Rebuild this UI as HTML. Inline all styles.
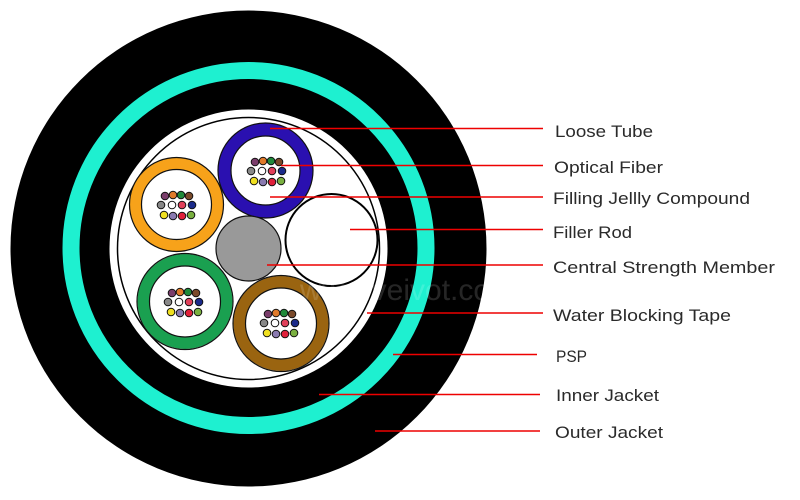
<!DOCTYPE html>
<html><head><meta charset="utf-8"><style>
html,body{margin:0;padding:0;background:#fff;width:800px;height:500px;overflow:hidden}
text.l{font-family:"Liberation Sans",sans-serif;font-size:17px;fill:#2a2a2a}
</style></head><body>
<svg width="800" height="500" viewBox="0 0 800 500" xmlns="http://www.w3.org/2000/svg">
<defs>
<g id="fib" stroke="#111" stroke-width="1">
<circle cx="-12" cy="-9" r="3.8" fill="#7a3d6b"/><circle cx="-4" cy="-10" r="3.8" fill="#e07a2a"/><circle cx="4" cy="-10" r="3.8" fill="#1f8a3a"/><circle cx="12" cy="-9" r="3.8" fill="#7a4a2a"/>
<circle cx="-16" cy="0" r="3.8" fill="#888"/><circle cx="-5" cy="0" r="3.8" fill="#fff"/><circle cx="5" cy="0" r="3.8" fill="#e0405a"/><circle cx="15" cy="0" r="3.8" fill="#1a2a8a"/>
<circle cx="-13" cy="10" r="3.8" fill="#f0e020"/><circle cx="-4" cy="11" r="3.8" fill="#8a7ab0"/><circle cx="5" cy="11" r="3.8" fill="#e0203a"/><circle cx="14" cy="10" r="3.8" fill="#7ab040"/>
</g>
</defs>
<circle cx="248.5" cy="248.5" r="238" fill="#000"/>
<circle cx="248.5" cy="248" r="177.5" fill="none" stroke="#1ef0d0" stroke-width="17"/>
<circle cx="248.5" cy="248.5" r="139" fill="#fff"/>
<circle cx="248.5" cy="248.5" r="131" fill="none" stroke="#000" stroke-width="1.5"/>
<circle cx="265.5" cy="170.5" r="41" fill="#fff" stroke="#2a10b0" stroke-width="13"/>
<circle cx="265.5" cy="170.5" r="47.5" fill="none" stroke="#111" stroke-width="1.2"/>
<circle cx="265.5" cy="170.5" r="34.5" fill="none" stroke="#111" stroke-width="1.2"/>
<circle cx="176.5" cy="204.5" r="41" fill="#fff" stroke="#f7a21a" stroke-width="12"/>
<circle cx="176.5" cy="204.5" r="47" fill="none" stroke="#111" stroke-width="1.2"/>
<circle cx="176.5" cy="204.5" r="35" fill="none" stroke="#111" stroke-width="1.2"/>
<circle cx="185" cy="301.5" r="41.5" fill="#fff" stroke="#1aa050" stroke-width="12"/>
<circle cx="185" cy="301.5" r="48" fill="none" stroke="#111" stroke-width="1.2"/>
<circle cx="185" cy="301.5" r="35.5" fill="none" stroke="#111" stroke-width="1.2"/>
<circle cx="281" cy="323.5" r="41.5" fill="#fff" stroke="#9a6410" stroke-width="12"/>
<circle cx="281" cy="323.5" r="48" fill="none" stroke="#111" stroke-width="1.2"/>
<circle cx="281" cy="323.5" r="35.5" fill="none" stroke="#111" stroke-width="1.2"/>
<circle cx="248.5" cy="248.5" r="32.5" fill="#999" stroke="#111" stroke-width="1.2"/>
<circle cx="331.5" cy="240" r="46" fill="#fff" stroke="#000" stroke-width="2"/>
<use href="#fib" x="267" y="171"/>
<use href="#fib" x="177" y="205"/>
<use href="#fib" x="184" y="302"/>
<use href="#fib" x="280" y="323"/>
<text x="300" y="300" font-family="Liberation Sans,sans-serif" font-size="30" fill="#fff" fill-opacity="0.15">www.veivot.com</text>
<g stroke="#e00" stroke-width="1.5">
<line x1="270" y1="128.5" x2="543" y2="128.5"/>
<line x1="281" y1="165.5" x2="543" y2="165.5"/>
<line x1="270" y1="197" x2="543" y2="197"/>
<line x1="350" y1="229.5" x2="543" y2="229.5"/>
<line x1="267" y1="265" x2="543" y2="265"/>
<line x1="367" y1="313" x2="543" y2="313"/>
<line x1="393" y1="354.5" x2="537" y2="354.5"/>
<line x1="319" y1="394.5" x2="540" y2="394.5"/>
<line x1="375" y1="431" x2="540" y2="431"/>
</g>
<text class="l" x="555" y="137" textLength="98" lengthAdjust="spacingAndGlyphs">Loose Tube</text>
<text class="l" x="554" y="173" textLength="109" lengthAdjust="spacingAndGlyphs">Optical Fiber</text>
<text class="l" x="553" y="204" textLength="197" lengthAdjust="spacingAndGlyphs">Filling Jellly Compound</text>
<text class="l" x="553" y="238" textLength="79" lengthAdjust="spacingAndGlyphs">Filler Rod</text>
<text class="l" x="553" y="273" textLength="222" lengthAdjust="spacingAndGlyphs">Central Strength Member</text>
<text class="l" x="553" y="321" textLength="178" lengthAdjust="spacingAndGlyphs">Water Blocking Tape</text>
<text class="l" x="556" y="362" textLength="31" lengthAdjust="spacingAndGlyphs">PSP</text>
<text class="l" x="556" y="401" textLength="103" lengthAdjust="spacingAndGlyphs">Inner Jacket</text>
<text class="l" x="555" y="438" textLength="108" lengthAdjust="spacingAndGlyphs">Outer Jacket</text>
</svg>
</body></html>
